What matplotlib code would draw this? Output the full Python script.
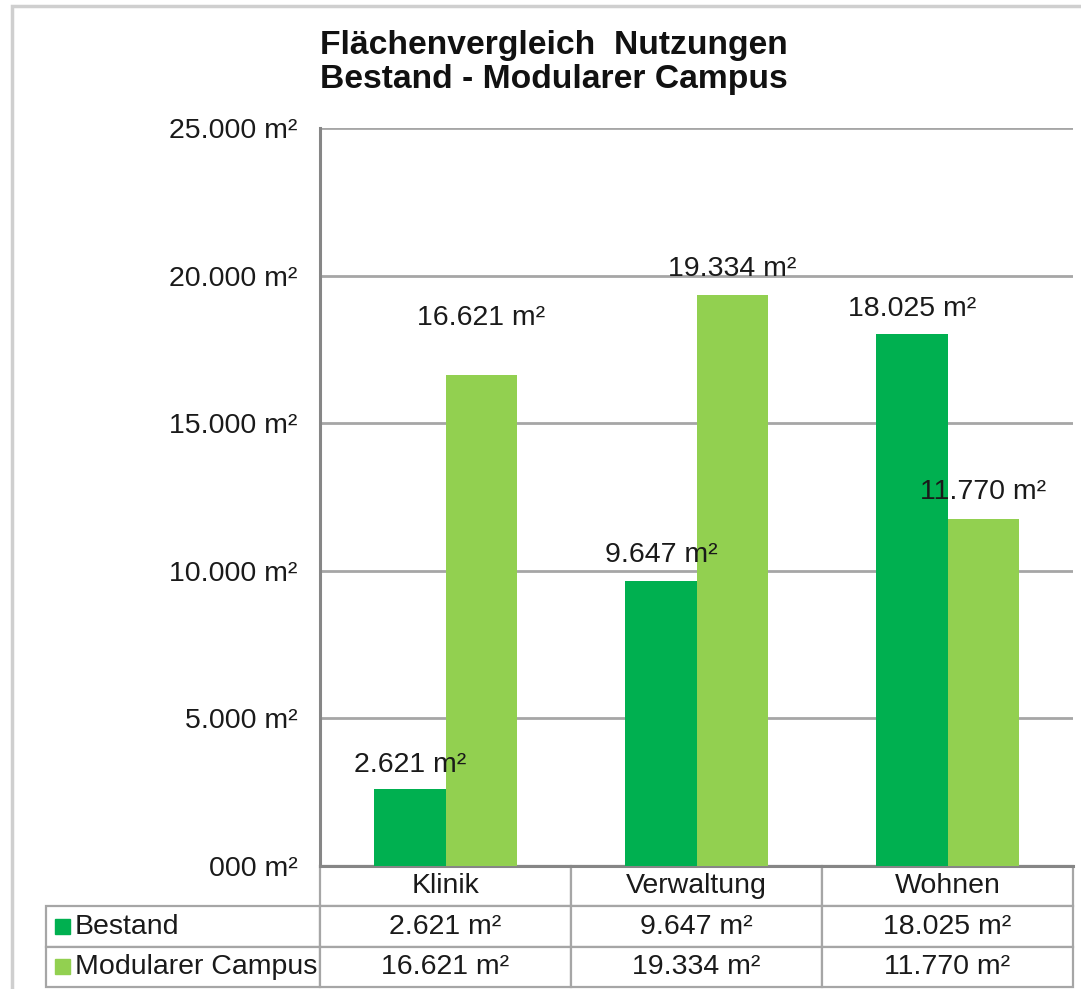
import matplotlib
matplotlib.use("Agg")
import matplotlib.pyplot as plt
from matplotlib.patches import Rectangle
import numpy as np

plt.rcParams['font.family'] = ['Liberation Sans', 'DejaVu Sans']

categories = ["Klinik", "Verwaltung", "Wohnen"]
bestand = [2621, 9647, 18025]
campus = [16621, 19334, 11770]
series_names = ["Bestand", "Modularer Campus"]
yticks = [0, 5000, 10000, 15000, 20000, 25000]
ytick_labels = ["000 m²", "5.000 m²", "10.000 m²", "15.000 m²", "20.000 m²", "25.000 m²"]
title = "Flächenvergleich  Nutzungen\nBestand - Modularer Campus"

col_dark = "#00B050"
col_light = "#92D050"


def fmt(v):
    return f"{v:,.0f}".replace(",", ".") + " m²"


W, H = 1081, 989
fig = plt.figure(figsize=(W / 100, H / 100), dpi=100)
ax = fig.add_axes([320 / W, 1 - 866 / H, 753 / W, 738 / H])

x = np.arange(len(categories))
bw = 0.284
b1 = ax.bar(x - bw / 2, bestand, bw, color=col_dark, zorder=3)
b2 = ax.bar(x + bw / 2, campus, bw, color=col_light, zorder=3)

# value labels above the bars (offsets in points)
offs1 = [17, 19, 18]
offs2 = [41, 19, 19]
for bars, vals, offs in ((b1, bestand, offs1), (b2, campus, offs2)):
    for r, v, o in zip(bars, vals, offs):
        ax.annotate(fmt(v), (r.get_x() + r.get_width() / 2, v),
                    xytext=(0, o), textcoords="offset points",
                    ha="center", va="center", fontsize=20.5, color="#1a1a1a",
                    zorder=5)

ax.set_xlim(-0.5, 2.5)
ax.set_ylim(0, 25000)
ax.set_yticks(yticks)
ax.set_yticklabels(ytick_labels)
ax.tick_params(axis="y", length=0, pad=16, labelsize=20.5, labelcolor="#1a1a1a")
ax.set_xticks([])
ax.grid(axis="y", color="#A6A6A6", linewidth=2, zorder=0)
ax.set_axisbelow(True)
for s in ("top", "right"):
    ax.spines[s].set_visible(False)
ax.spines["left"].set_color("#868686")
ax.spines["left"].set_linewidth(2.2)
ax.spines["bottom"].set_color("#868686")
ax.spines["bottom"].set_linewidth(2.2)

# data table under the chart, first column holds the series names
lab_w = 274 / 753
tab_h = 121 / 738
cell_text = [[series_names[0]] + [fmt(v) for v in bestand],
             [series_names[1]] + [fmt(v) for v in campus]]
tab = ax.table(cellText=cell_text, colLabels=[""] + categories,
               colWidths=[lab_w] + [1 / 3] * 3,
               cellLoc="center", colLoc="center",
               bbox=[-lab_w, -tab_h, 1 + lab_w, tab_h])
tab.auto_set_font_size(False)
tab.set_fontsize(20.5)
for (r, c), cell in tab.get_celld().items():
    cell.set_edgecolor("#A6A6A6")
    cell.set_linewidth(1.6)
    cell.get_text().set_color("#1a1a1a")
    if c == 0 and r > 0:
        cell.get_text().set_ha("left")
        cell._loc = "left"
        cell.PAD = 0.105
tab[0, 0].visible_edges = ""

row_h = tab_h / 3
for i, col in enumerate((col_dark, col_light)):
    yc = -row_h * (i + 1.5)
    ax.add_patch(Rectangle((-lab_w + 9 / 753, yc - 7.5 / 738), 15 / 753, 15 / 738,
                           transform=ax.transAxes, color=col, clip_on=False,
                           zorder=6))

fig.text(320 / W, 1 - 30 / H, title, ha="left", va="top", fontsize=24.2,
         fontweight="bold", color="#111111", linespacing=1.13)

# outer frame of the chart object
fig.patches.append(Rectangle((12 / W, -1), 2, 2 - 6 / H, transform=fig.transFigure,
                             fill=False, edgecolor="#CFCFCF", linewidth=2.5))

fig.savefig("out.png", dpi=100)
